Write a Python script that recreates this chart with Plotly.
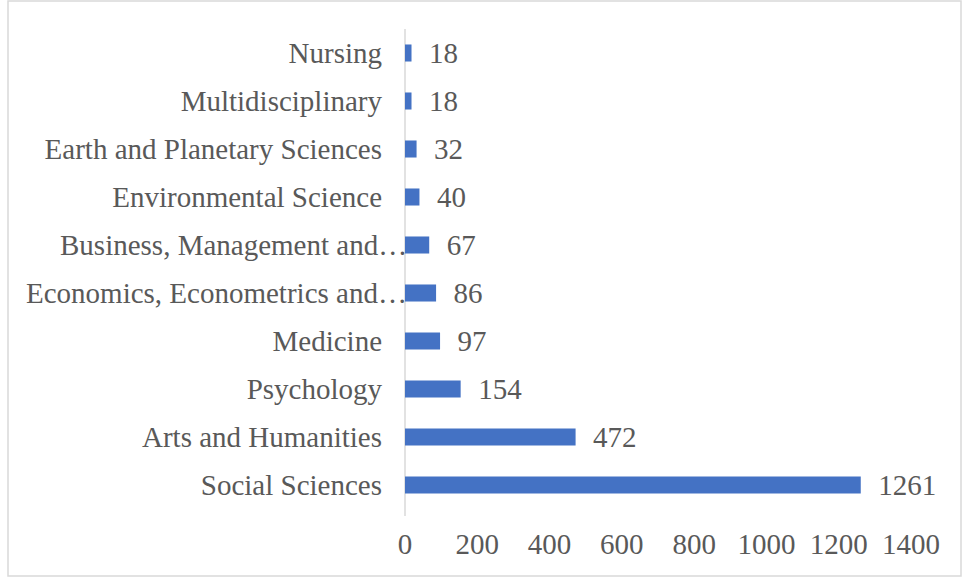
import plotly.graph_objects as go

categories = ["Nursing", "Multidisciplinary", "Earth and Planetary Sciences",
              "Environmental Science", "Business, Management and…",
              "Economics, Econometrics and…", "Medicine", "Psychology",
              "Arts and Humanities", "Social Sciences"]
values = [18, 18, 32, 40, 67, 86, 97, 154, 472, 1261]
x_ticks = [0, 200, 400, 600, 800, 1000, 1200, 1400]

FONT = "Liberation Serif, Times New Roman, serif"
GRAY = "#595959"
FS = 29

fig = go.Figure(go.Bar(
    x=values, y=categories, orientation="h",
    marker=dict(color="#4472C4", line=dict(width=0)),
    text=values, texttemplate="\u00a0\u00a0%{x}", textposition="outside",
    textfont=dict(family=FONT, size=FS, color=GRAY),
    constraintext="none", cliponaxis=False,
))

L, R, T, B = 405, 51, 29, 69
W, H = 962, 578
pw, ph = W - L - R, H - T - B

def py(pix):
    return (T + ph - pix) / ph

def px(pix):
    return (pix - L) / pw

# truncated (Excel-style) labels sit slightly further right than the others
truncated = [c for c in categories if c.endswith("…")]
ticktext = ["" if c in truncated else c for c in categories]

annotations = [dict(x=px(409), xref="paper", y=c, yref="y", text=c,
                    showarrow=False, xanchor="right", yanchor="middle",
                    font=dict(family=FONT, size=FS, color=GRAY))
               for c in truncated]

fig.update_layout(
    template="none",
    width=W, height=H,
    margin=dict(l=L, r=R, t=T, b=B, pad=0, autoexpand=False),
    paper_bgcolor="white", plot_bgcolor="white",
    font=dict(family=FONT, size=FS, color=GRAY),
    bargap=0.645, showlegend=False,
    xaxis=dict(range=[0, 1400], tickvals=x_ticks, showgrid=False, zeroline=False,
               showline=False, ticks="", ticklabelstandoff=15, automargin=False,
               tickfont=dict(family=FONT, size=FS, color=GRAY)),
    yaxis=dict(autorange="reversed", showgrid=False, zeroline=False,
               showline=False, ticks="", ticklabelstandoff=22, automargin=False,
               tickvals=categories, ticktext=ticktext,
               tickfont=dict(family=FONT, size=FS, color=GRAY)),
    annotations=annotations,
    shapes=[
        dict(type="rect", xref="paper", yref="paper",
             x0=px(8), x1=px(961), y0=py(576), y1=py(1),
             line=dict(color="#D9D9D9", width=1.5), fillcolor="rgba(0,0,0,0)",
             layer="below"),
        dict(type="line", xref="paper", yref="paper",
             x0=0, x1=0, y0=py(516), y1=py(29),
             line=dict(color="#D9D9D9", width=1.5), layer="below"),
    ],
)

fig.write_html("out.html", config={"displayModeBar": False},
               post_script="document.body.style.margin='0';document.body.style.overflow='hidden';")
